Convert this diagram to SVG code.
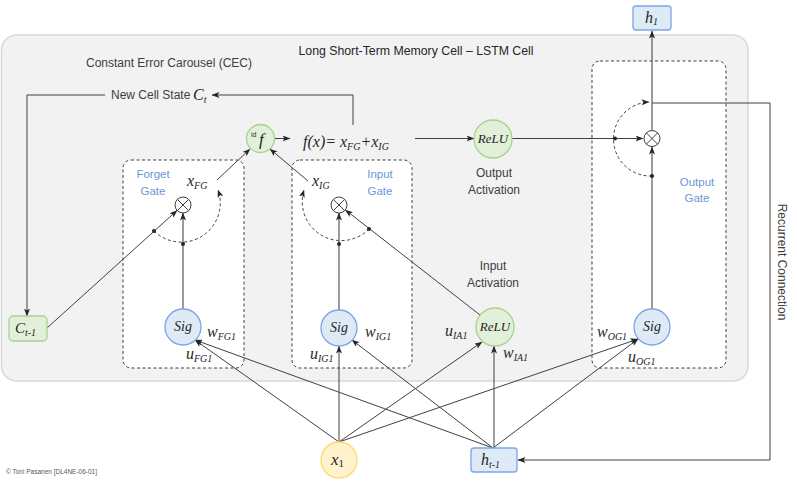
<svg xmlns="http://www.w3.org/2000/svg" width="797" height="481" viewBox="0 0 797 481">
<style>
.lbl{font-family:"Liberation Sans","Open Sans",sans-serif;font-size:12px;fill:#404040}
.blue{font-family:"Liberation Sans","Open Sans",sans-serif;font-size:11.5px;fill:#6a97d8;text-anchor:middle}
.m{font-family:"Liberation Serif","DejaVu Serif",serif;font-style:italic;font-size:16px;fill:#262626}
.sub{font-size:10px}
.ln{fill:none;stroke:#404040;stroke-width:1}
.vl{fill:none;stroke:#595959;stroke-width:1.2}
.dash{fill:none;stroke:#404040;stroke-width:1;stroke-dasharray:3,2.5}
.gate{fill:#ffffff;stroke:#404040;stroke-width:1;stroke-dasharray:3,2.5}
.sig{fill:#deebf7;stroke:#7aa6e6;stroke-width:1.3}
.grn{fill:#e2f0d9;stroke:#a9d18e;stroke-width:1.3}
.dot{fill:#262626}
.mul{fill:#ffffff;stroke:#404040;stroke-width:1}
</style>
<defs>
<marker id="ah" markerWidth="8" markerHeight="6" refX="7.5" refY="3" orient="auto" markerUnits="userSpaceOnUse">
<path d="M0,0 L8,3 L0,6 L2,3 z" fill="#262626"/>
</marker>
</defs>

<g id="cell">
<rect x="1.5" y="35" width="746.5" height="346" rx="15" ry="15" fill="#f2f2f2" stroke="#d9d9d9" stroke-width="1.5"/>
<text x="416" y="55" class="lbl" text-anchor="middle" style="font-size:12.3px;fill:#262626">Long Short-Term Memory Cell – LSTM Cell</text>
<text x="169" y="67" class="lbl" text-anchor="middle">Constant Error Carousel (CEC)</text>
</g>

<g id="forget-gate">
<rect x="123" y="160" width="121" height="208" rx="8" ry="8" class="gate"/>
<text x="153" y="178" class="blue">Forget</text>
<text x="153" y="195" class="blue">Gate</text>
</g>
<g id="input-gate">
<rect x="292" y="160" width="120" height="208" rx="8" ry="8" class="gate"/>
<text x="380" y="178" class="blue">Input</text>
<text x="380" y="195" class="blue">Gate</text>
</g>
<g id="output-gate">
<rect x="592" y="61" width="134" height="307" rx="8" ry="8" class="gate"/>
<text x="697" y="186" class="blue">Output</text>
<text x="697" y="202" class="blue">Gate</text>
</g>

<g id="connectors">
<path d="M353,125 V95 H212" class="ln" marker-end="url(#ah)"/>
<path d="M105,95 H27 V316" class="ln" marker-end="url(#ah)"/>
<path d="M47,328 L177,210.5" class="ln" marker-end="url(#ah)"/>
<path d="M183,309 V213" class="vl" marker-end="url(#ah)"/>
<path d="M154,231 A39,39 0 0,0 218,190" class="dash" marker-end="url(#ah)"/>
<path d="M339,310 V213" class="vl" marker-end="url(#ah)"/>
<path d="M480,315 L345.5,210" class="ln" marker-end="url(#ah)"/>
<path d="M369,229 A39,39 0 0,1 304,190" class="dash" marker-end="url(#ah)"/>
<path d="M217,180 L250,149" class="ln" marker-end="url(#ah)"/>
<path d="M308,181 L270,149" class="ln" marker-end="url(#ah)"/>
<path d="M275,138.5 H290" class="ln" marker-end="url(#ah)"/>
<path d="M415,138.5 H474" class="ln" marker-end="url(#ah)"/>
<path d="M512,138.5 H643" class="ln" marker-end="url(#ah)"/>
<path d="M652,309 V147" class="vl" marker-end="url(#ah)"/>
<path d="M652,176 A37,37 0 0,1 649,102" class="dash" marker-end="url(#ah)"/>
<path d="M652,130 V31" class="vl" marker-end="url(#ah)"/>
<path d="M652,103 H770 V460 H518" class="ln" marker-end="url(#ah)"/>
<path d="M339,442 L195,340" class="ln" marker-end="url(#ah)"/>
<path d="M339,442 V346" class="ln" marker-end="url(#ah)"/>
<path d="M339,442 L482,342" class="ln" marker-end="url(#ah)"/>
<path d="M339,442 L638,339" class="ln" marker-end="url(#ah)"/>
<path d="M493,448 L195,340" class="ln" marker-end="url(#ah)"/>
<path d="M493,448 L352,340" class="ln" marker-end="url(#ah)"/>
<path d="M494,448 V346" class="ln" marker-end="url(#ah)"/>
<path d="M493,448 L638,339" class="ln" marker-end="url(#ah)"/>
<circle cx="154" cy="231" r="2" class="dot"/>
<circle cx="183" cy="244" r="2" class="dot"/>
<circle cx="369" cy="229" r="2" class="dot"/>
<circle cx="339" cy="244" r="2" class="dot"/>
<circle cx="615" cy="138.5" r="2" class="dot"/>
<circle cx="652" cy="176" r="2" class="dot"/>
</g>

<g id="new-cell-state">
<text x="111" y="99" class="lbl">New Cell State</text>
<text x="193" y="100" class="m">C<tspan class="sub" dy="3">t</tspan></text>
</g>

<g id="c-prev">
<rect x="9" y="316" width="38" height="25" rx="4" ry="4" class="grn"/>
<text x="15" y="333" class="m" style="font-size:15px">C<tspan class="sub" dy="3">t-1</tspan></text>
</g>

<g id="mul-forget">
<circle cx="183" cy="205" r="8" class="mul"/>
<path d="M177.3,199.3 L188.7,210.7 M188.7,199.3 L177.3,210.7" class="ln"/>
<text x="187" y="186" class="m" style="font-size:16px">x<tspan class="sub" dy="3">FG</tspan></text>
</g>
<g id="mul-input">
<circle cx="339" cy="205" r="8" class="mul"/>
<path d="M333.3,199.3 L344.7,210.7 M344.7,199.3 L333.3,210.7" class="ln"/>
<text x="312" y="186" class="m" style="font-size:16px">x<tspan class="sub" dy="3">IG</tspan></text>
</g>
<g id="mul-output">
<circle cx="652" cy="138.5" r="8" class="mul"/>
<path d="M646.3,132.8 L657.7,144.2 M657.7,132.8 L646.3,144.2" class="ln"/>
</g>

<g id="id-f">
<circle cx="260.5" cy="138.5" r="14" class="grn"/>
<text x="251" y="137" style="font-size:7px;font-family:'Liberation Sans',sans-serif;fill:#262626">id</text>
<text x="259" y="145" class="m" style="font-size:17px">f</text>
</g>

<g id="formula">
<text x="303" y="147" class="m">f(x)= x<tspan class="sub" dy="3">FG</tspan><tspan dy="-3" style="font-size:16px">+x</tspan><tspan class="sub" dy="3">IG</tspan></text>
</g>

<g id="relu-out">
<circle cx="493" cy="139" r="19" class="grn"/>
<text x="493" y="143" class="m" text-anchor="middle" style="font-size:13px">ReLU</text>
<text x="494" y="177" class="lbl" text-anchor="middle">Output</text>
<text x="494" y="194" class="lbl" text-anchor="middle">Activation</text>
</g>

<g id="relu-in">
<circle cx="495" cy="327" r="19" class="grn"/>
<text x="495" y="331" class="m" text-anchor="middle" style="font-size:13px">ReLU</text>
<text x="493" y="270" class="lbl" text-anchor="middle">Input</text>
<text x="493" y="287" class="lbl" text-anchor="middle">Activation</text>
<text x="445" y="336" class="m">u<tspan class="sub" dy="3">IA1</tspan></text>
<text x="503" y="358" class="m">w<tspan class="sub" dy="3">IA1</tspan></text>
</g>

<g id="sig-forget">
<circle cx="183" cy="327" r="18" class="sig"/>
<text x="183" y="331" class="m" text-anchor="middle" style="font-size:14px">Sig</text>
<text x="207" y="337" class="m">w<tspan class="sub" dy="3">FG1</tspan></text>
<text x="186" y="359" class="m">u<tspan class="sub" dy="3">FG1</tspan></text>
</g>
<g id="sig-input">
<circle cx="339" cy="328" r="18" class="sig"/>
<text x="339" y="332" class="m" text-anchor="middle" style="font-size:14px">Sig</text>
<text x="365" y="337" class="m">w<tspan class="sub" dy="3">IG1</tspan></text>
<text x="310" y="359" class="m">u<tspan class="sub" dy="3">IG1</tspan></text>
</g>
<g id="sig-output">
<circle cx="652" cy="327" r="18" class="sig"/>
<text x="652" y="331" class="m" text-anchor="middle" style="font-size:14px">Sig</text>
<text x="597" y="337" class="m">w<tspan class="sub" dy="3">OG1</tspan></text>
<text x="628" y="362" class="m">u<tspan class="sub" dy="3">OG1</tspan></text>
</g>

<g id="h1">
<rect x="633" y="6" width="38" height="24" rx="3" ry="3" class="sig"/>
<text x="645" y="23" class="m" style="font-size:16px">h<tspan class="sub" dy="2">1</tspan></text>
</g>

<g id="x1">
<circle cx="339" cy="460" r="18" fill="#fff2cc" stroke="#ffd966" stroke-width="1.3"/>
<text x="331" y="465" class="m" style="font-size:17px">x<tspan class="sub" dy="2" style="font-style:normal;font-size:11px">1</tspan></text>
</g>

<g id="h-prev">
<rect x="471" y="448" width="46" height="24" rx="3" ry="3" class="sig"/>
<text x="481" y="465" class="m" style="font-size:16px">h<tspan class="sub" dy="3">t-1</tspan></text>
</g>

<g id="recurrent-label">
<text transform="translate(778,262) rotate(90)" class="lbl" text-anchor="middle" style="font-size:12px">Recurrent Connection</text>
</g>

<text x="6" y="474" class="lbl" style="font-size:6.5px;fill:#595959">© Toni Pasanen [DL4NE-06-01]</text>
</svg>
